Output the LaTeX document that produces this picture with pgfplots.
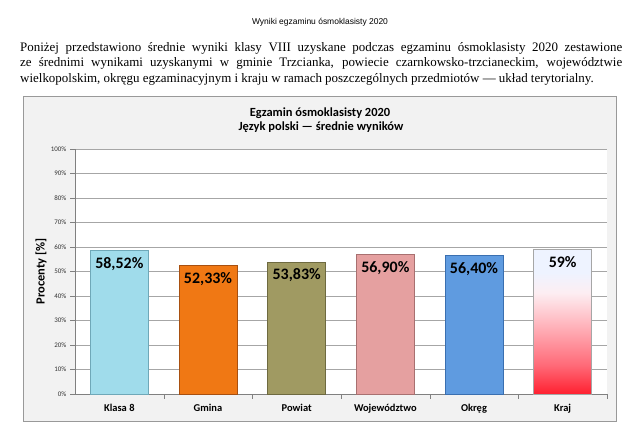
\documentclass[border=0pt]{standalone}
\usepackage{fontspec}
\usepackage{pgfplots}
\pgfplotsset{compat=1.18}
\setmainfont{Liberation Serif}
\newfontfamily\chartfont{Carlito}
\newfontfamily\headfont{Liberation Sans}
\definecolor{bgray}{HTML}{F2F2F2}
\definecolor{cA}{HTML}{A0DCEB}\definecolor{cAd}{HTML}{6FA8B8}
\definecolor{cB}{HTML}{F07814}\definecolor{cBd}{HTML}{A85010}
\definecolor{cC}{HTML}{A09A62}\definecolor{cCd}{HTML}{6E6A40}
\definecolor{cD}{HTML}{E5A0A0}\definecolor{cDd}{HTML}{A87070}
\definecolor{cE}{HTML}{5F9BE0}\definecolor{cEd}{HTML}{3A6FB0}
\definecolor{kTop}{HTML}{EEF3FF}\definecolor{kPale}{HTML}{FDEEF2}
\definecolor{kMid}{HTML}{FFB0B8}\definecolor{kLow}{HTML}{FF6A78}\definecolor{kBot}{HTML}{FF2030}
\pgfdeclareverticalshading{kraj}{100bp}{color(0bp)=(kBot); color(25bp)=(kBot); color(35bp)=(kLow); color(48bp)=(kMid); color(60bp)=(kPale); color(67bp)=(kTop); color(100bp)=(kTop)}
\begin{document}
\begin{tikzpicture}[x=1bp,y=1bp]
\path[use as bounding box, fill=white] (0,0) rectangle (640,436);
\node[font=\headfont\fontsize{8.5}{10}\selectfont] at (320,414) {Wyniki egzaminu ósmoklasisty 2020};
\node[anchor=north west, inner sep=0pt, text width=602bp, align=justify,
  font=\fontsize{13}{15.5}\selectfont] at (20,394)
  {Poniżej przedstawiono średnie wyniki klasy VIII uzyskane podczas egzaminu ósmoklasisty 2020 zestawione\linebreak
   ze średnimi wynikami uzyskanymi w gminie Trzcianka, powiecie czarnkowsko-trzcianeckim, województwie\linebreak
   wielkopolskim, okręgu egzaminacyjnym i kraju w ramach poszczególnych przedmiotów — układ terytorialny.};
\draw[gray!80, fill=bgray] (23,15) rectangle (616,340);
\node[font=\chartfont\bfseries\fontsize{12.5}{14}\selectfont] at (320,323) {Egzamin ósmoklasisty 2020};
\node[font=\chartfont\bfseries\fontsize{12.5}{14}\selectfont] at (321,309) {Język polski — średnie wyników};
\begin{axis}[
  at={(75bp,42bp)}, anchor=south west,
  scale only axis, width=532bp, height=245bp,
  xmin=-0.5, xmax=5.5, ymin=0, ymax=100,
  axis background/.style={fill=white},
  axis lines=left, axis line style={gray, -},
  ytick={0,10,...,100},
  yticklabel={\pgfmathprintnumber{\tick}\%},
  /pgf/number format/assume math mode=true,
  yticklabel style={font=\chartfont\fontsize{7}{8}\selectfont, text=black!80},
  ymajorgrids, grid style={gray!70, line width=0.6pt},
  ytick style={gray}, tick align=outside, major tick length=5bp,
  xtick={0,...,5},
  xticklabels={Klasa 8, Gmina, Powiat, Województwo, Okręg, Kraj},
  xticklabel style={font=\chartfont\bfseries\fontsize{10.5}{12}\selectfont, yshift=-2bp},
  major x tick style={draw=none},
  minor xtick={0.5,1.5,2.5,3.5,4.5,5.5},
  minor x tick style={gray}, minor tick length=5bp,
  ylabel={Procenty [\%]},
  ylabel style={font=\chartfont\bfseries\fontsize{12.5}{14}\selectfont, at={(axis description cs:-0.0639,0.5)}, anchor=center},
  ybar, bar width=58bp, bar shift=0pt,
  every node near coord/.append style={anchor=north, yshift=-3bp, font=\chartfont\bfseries\fontsize{16}{18}\selectfont, text=black},
  clip=false,
]
\addplot[fill=cA, draw=cAd, line width=0.8pt, nodes near coords={58,52\%}] coordinates {(0,58.52)};
\addplot[fill=cB, draw=cBd, line width=0.8pt, nodes near coords={52,33\%}] coordinates {(1,52.33)};
\addplot[fill=cC, draw=cCd, line width=0.8pt, nodes near coords={53,83\%}] coordinates {(2,53.83)};
\addplot[fill=cD, draw=cDd, line width=0.8pt, nodes near coords={56,90\%}] coordinates {(3,56.90)};
\addplot[fill=cE, draw=cEd, line width=0.8pt, nodes near coords={56,40\%}] coordinates {(4,56.40)};
\addplot[shading=kraj, draw=gray!70, line width=0.8pt, nodes near coords={59\%}] coordinates {(5,59)};
\end{axis}
\end{tikzpicture}
\end{document}
